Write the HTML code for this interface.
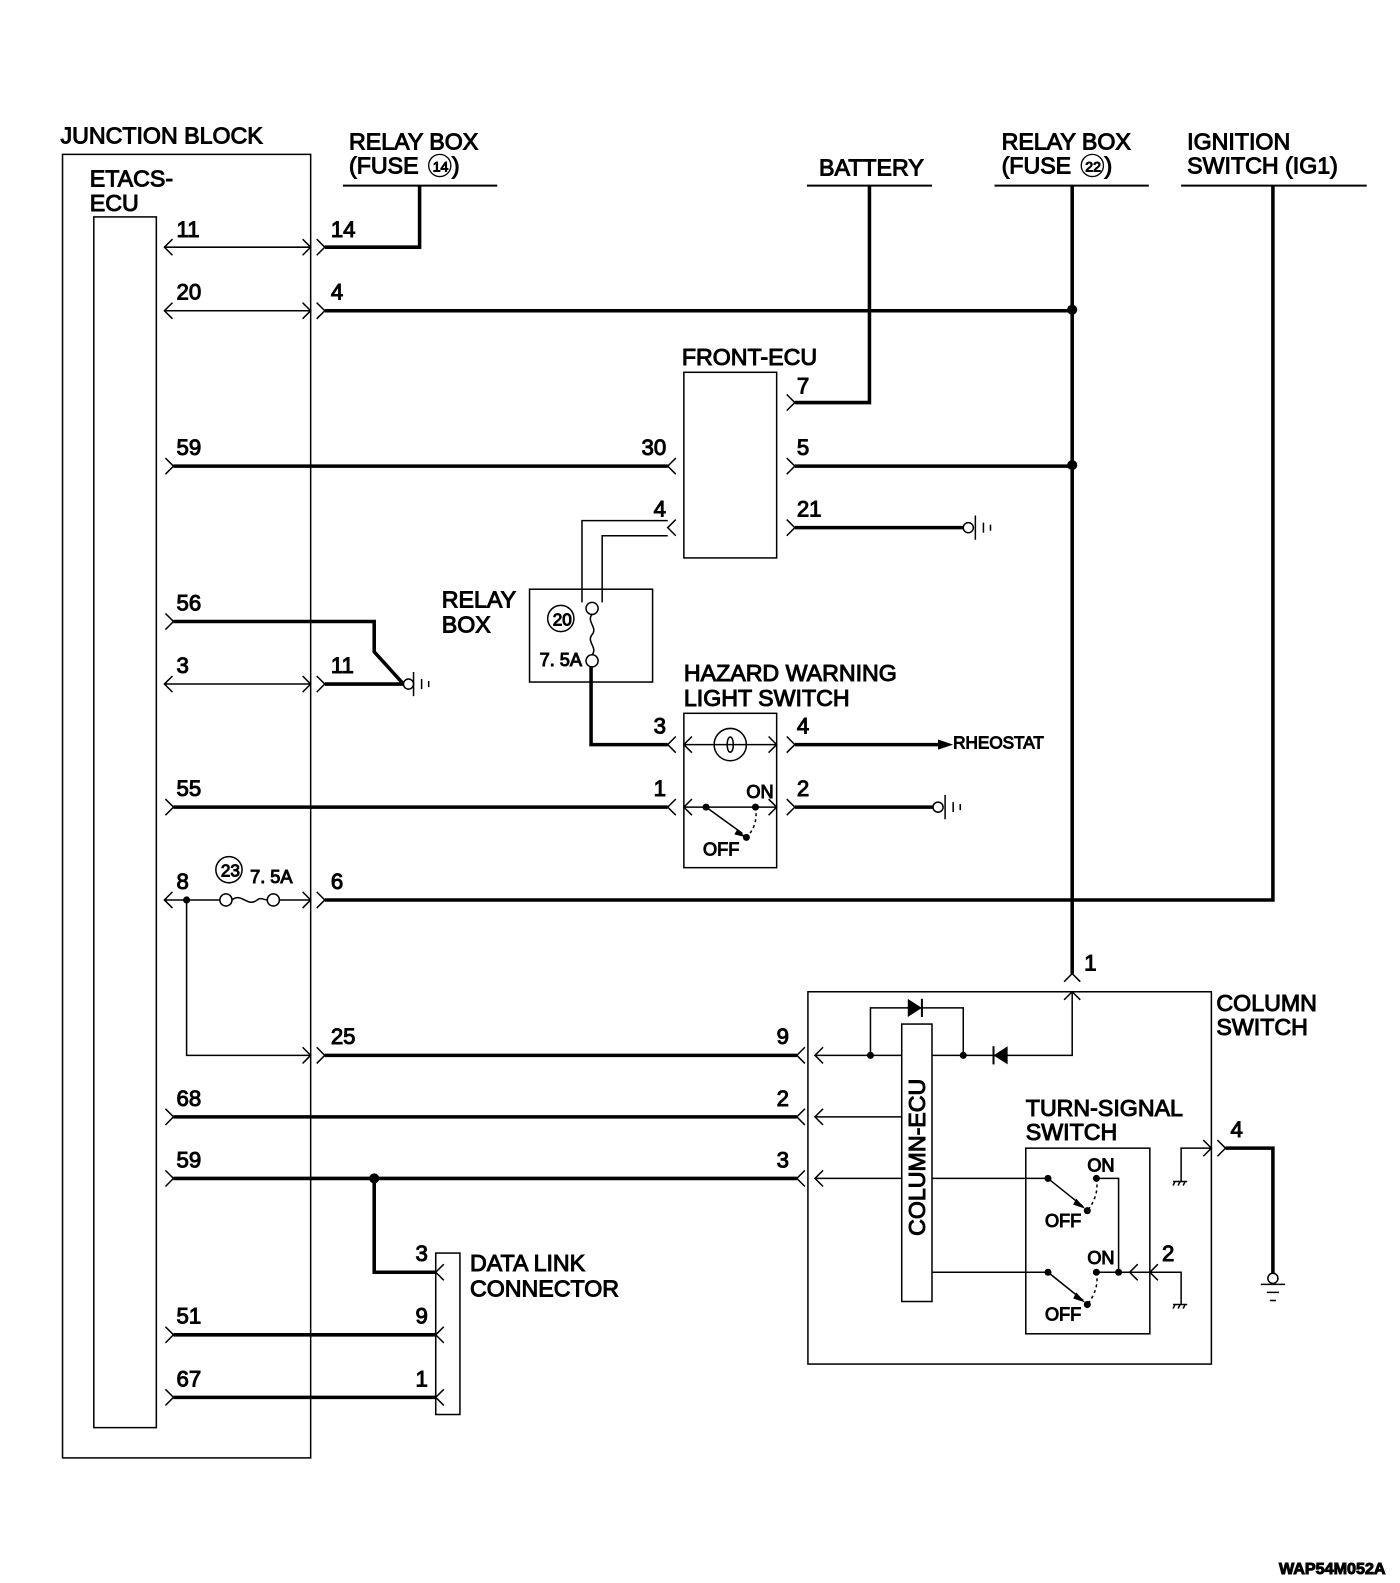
<!DOCTYPE html>
<html><head><meta charset="utf-8"><style>
html,body{margin:0;padding:0;background:#fff;}
svg{display:block}
text{font-family:"Liberation Sans",sans-serif;fill:#000}
.L{font-size:23px}
.n{font-size:22px;font-family:"Liberation Sans Narrow","Liberation Sans",sans-serif}
.s{font-size:19px}
</style></head><body>
<svg width="1400" height="1583" viewBox="0 0 1388 1569" preserveAspectRatio="none" xmlns="http://www.w3.org/2000/svg">
<g fill="none" stroke="#000">
<rect x="62" y="153" width="246" height="1292" stroke-width="1.5"/>
<rect x="93" y="215" width="62" height="1200" stroke-width="1.5"/>
<g stroke-width="1.5">
<path d="M163 245H308 M171 237L163 245L171 253 M300 237L308 245L300 253 M314 237L322 245L314 253"/>
<path d="M163 308H308 M171 300L163 308L171 316 M300 300L308 308L300 316 M314 300L322 308L314 316"/>
<path d="M163 678H308 M171 670L163 678L171 686 M300 670L308 678L300 686 M314 670L322 678L314 686"/>
<path d="M163 892H218 M171 884L163 892L171 900 M277 892H308 M300 884L308 892L300 900 M314 884L322 892L314 900"/>
<path d="M185 892V1046H308 M300 1038L308 1046L300 1054 M314 1038L322 1046L314 1054"/>
<path d="M164 454L172 462L164 470 M164 608L172 616L164 624 M164 792L172 800L164 808 M164 1099L172 1107L164 1115 M164 1160L172 1168L164 1176 M164 1315L172 1323L164 1331 M164 1377L172 1385L164 1393"/>
</g>
<g stroke-width="3.5">
<path d="M322 245H416V184"/>
<path d="M322 308H1063"/>
<path d="M172 462H662"/>
<path d="M172 616H371V646L400 678H322"/>
<path d="M172 800H662"/>
<path d="M322 892H1262V184"/>
<path d="M322 1046H790"/>
<path d="M172 1107H790"/>
<path d="M172 1168H790"/>
<path d="M371 1168V1261H432"/>
<path d="M172 1323H432"/>
<path d="M172 1385H432"/>
<path d="M862 184V399H788"/>
<path d="M1063 184V965"/>
<path d="M788 462H1063"/>
<path d="M788 523H955"/>
<path d="M586 661V738H662"/>
<path d="M788 738H930"/>
<path d="M788 800H925"/>
<path d="M1215 1138H1262V1262"/>
</g>
<g stroke-width="2">
<path d="M340 184H493 M800 184H924 M986 184H1139 M1171 184H1355"/>
</g>
<g stroke-width="1.5">
<rect x="678" y="369" width="92" height="184"/>
<path d="M780 391L788 399L780 407 M780 454L788 462L780 470 M780 515L788 523L780 531"/>
<path d="M670 454L662 462L670 470 M670 515L662 523L670 531"/>
<path d="M662 516H577V597 M662 531H597V597"/>
<rect x="525" y="584" width="122" height="92"/>
<circle cx="587" cy="603" r="6"/>
<circle cx="587" cy="655" r="6"/>
<path d="M587 609C581 616 593 622 587 629C581 636 593 642 587 649"/>
<circle cx="556" cy="613" r="13"/>
<rect x="678" y="707" width="92" height="153"/>
<path d="M670 730L662 738L670 746 M686 730L678 738L686 746 M762 730L770 738L762 746 M780 730L788 738L780 746"/>
<path d="M678 738H770"/>
<circle cx="724" cy="738" r="16"/>
<path d="M721 738C721 728 727 728 727 738C727 748 721 748 721 738"/>
<path d="M670 792L662 800L670 808 M686 792L678 800L686 808 M762 792L770 800L762 808 M780 792L788 800L780 808"/>
<path d="M678 800H770"/>
<path d="M700 800L736 826"/>
<path d="M749 800Q752 818 740 830" stroke-dasharray="3 3"/>
<circle cx="224" cy="892" r="6"/>
<circle cx="271" cy="892" r="6"/>
<path d="M230 892C240 884 245 900 255 892C258 889 262 892 265 892"/>
<circle cx="227" cy="862" r="13"/>
<path d="M967 511V535 M975 518V528 M982 520V526"/>
<path d="M937 788V812 M945 795V805 M952 797V803"/>
<path d="M410 666V690 M418 673V683 M425 675V681"/>
<rect x="801" y="983" width="400" height="369"/>
<path d="M1055 973L1063 965L1071 973 M1055 991L1063 983L1071 991"/>
<rect x="894" y="1015" width="30" height="275"/>
<path d="M798 1038L790 1046L798 1054 M816 1038L808 1046L816 1054 M798 1099L790 1107L798 1115 M816 1099L808 1107L816 1115 M798 1160L790 1168L798 1176 M816 1160L808 1168L816 1176"/>
<path d="M808 1046H894 M808 1107H894 M808 1168H894"/>
<path d="M863 1046V999H955V1046 M924 1046H1063V983"/>
<path d="M924 1168H1039 M924 1261H1039"/>
<rect x="1017" y="1138" width="123" height="184"/>
<path d="M1039 1168L1074 1196 M1039 1261L1074 1289"/>
<path d="M1087 1168Q1090 1185 1078 1200 M1087 1261Q1090 1278 1078 1293" stroke-dasharray="3 3"/>
<path d="M1087 1168H1109V1261 M1087 1261H1171V1293"/>
<path d="M1128 1253L1120 1261L1128 1269 M1148 1253L1140 1261L1148 1269"/>
<path d="M1171 1171V1138H1201 M1193 1130L1201 1138L1193 1146 M1207 1130L1215 1138L1207 1146"/>
<path d="M1163 1171H1177 M1165 1171L1163 1175 M1170 1171L1168 1175 M1175 1171L1173 1175 M1163 1293H1177 M1165 1293L1163 1297 M1170 1293L1168 1297 M1175 1293L1173 1297"/>
<circle cx="1262" cy="1267" r="5"/>
<path d="M1250 1273H1274 M1256 1281H1268 M1259 1289H1265"/>
<rect x="432" y="1242" width="24" height="160"/>
<path d="M440 1253L432 1261L440 1269 M440 1315L432 1323L440 1331 M440 1377L432 1385L440 1393"/>
</g>
<g fill="#000" stroke="none">
<circle cx="1063" cy="307" r="5"/><circle cx="1063" cy="461" r="5"/>
<circle cx="371" cy="1168" r="5"/><circle cx="185" cy="892" r="3.5"/>
<circle cx="700" cy="800" r="3.5"/><circle cx="740" cy="830" r="3.5"/><circle cx="749" cy="800" r="3.5"/>
<path d="M930 733L945 738L930 743Z"/>
<path d="M731 822L740 830L728 827Z"/>
<circle cx="863" cy="1046" r="3.5"/><circle cx="955" cy="1046" r="3.5"/>
<path d="M900 990L914 999L900 1008Z"/><rect x="913" y="990" width="2" height="18"/>
<path d="M999 1037L985 1046L999 1055Z"/><rect x="984" y="1037" width="2" height="18"/>
<circle cx="1039" cy="1168" r="3.5"/><circle cx="1078" cy="1200" r="3.5"/><circle cx="1087" cy="1168" r="3.5"/>
<circle cx="1039" cy="1261" r="3.5"/><circle cx="1078" cy="1293" r="3.5"/><circle cx="1087" cy="1261" r="3.5"/><circle cx="1109" cy="1261" r="3.5"/>
<path d="M1067 1188L1076 1198L1064 1194Z M1067 1281L1076 1291L1064 1287Z"/>
</g>
<g fill="#fff" stroke="#000" stroke-width="1.5">
<circle cx="405" cy="678" r="5"/><circle cx="960" cy="523" r="5"/><circle cx="930" cy="800" r="5"/>
</g>
<g class="L">
<text x="60" y="142">JUNCTION BLOCK</text>
<text x="89" y="185">ETACS-</text><text x="89" y="209">ECU</text>
<text x="346" y="148">RELAY BOX</text><text x="346" y="172">(FUSE</text>
<text x="812" y="174">BATTERY</text>
<text x="993" y="148">RELAY BOX</text><text x="993" y="172">(FUSE</text>
<text x="1177" y="148">IGNITION</text><text x="1177" y="172">SWITCH (IG1)</text>
<text x="676" y="362">FRONT-ECU</text>
<text x="438" y="602">RELAY</text><text x="438" y="627">BOX</text>
<text x="678" y="675">HAZARD WARNING</text><text x="678" y="700">LIGHT SWITCH</text>
<text x="1206" y="1002">COLUMN</text><text x="1206" y="1026">SWITCH</text>
<text x="1017" y="1106">TURN-SIGNAL</text><text x="1017" y="1130">SWITCH</text>
<text x="466" y="1260">DATA LINK</text><text x="466" y="1285">CONNECTOR</text>
<text transform="translate(917 1225) rotate(-90)">COLUMN-ECU</text>
</g>
<text x="945" y="742" style="font-size:17px">RHEOSTAT</text>
<g class="L">
<circle cx="436" cy="164" r="11" fill="none" stroke="#000" stroke-width="1.3"/><text x="429" y="170" style="font-size:14px">14</text><text x="448" y="172">)</text>
<circle cx="1083" cy="164" r="11" fill="none" stroke="#000" stroke-width="1.3"/><text x="1076" y="170" style="font-size:14px">22</text><text x="1095" y="172">)</text>
</g>
<text x="548" y="620" style="font-size:17px">20</text>
<text x="219" y="869" style="font-size:17px">23</text>
<g class="n" style="font-size:18px">
<text x="535" y="660">7. 5A</text><text x="248" y="875">7. 5A</text>
<text x="740" y="791">ON</text><text x="697" y="848">OFF</text>
<text x="1078" y="1161">ON</text><text x="1036" y="1216">OFF</text>
<text x="1078" y="1253">ON</text><text x="1036" y="1309">OFF</text>
</g>
<g class="n">
<text x="175" y="235">11</text><text x="175" y="297">20</text><text x="175" y="451">59</text><text x="175" y="605">56</text>
<text x="175" y="667">3</text><text x="175" y="789">55</text><text x="175" y="881">8</text><text x="175" y="1096">68</text>
<text x="175" y="1157">59</text><text x="175" y="1312">51</text><text x="175" y="1374">67</text>
<text x="328" y="235">14</text><text x="328" y="297">4</text><text x="328" y="667">11</text><text x="328" y="881">6</text><text x="328" y="1035">25</text>
<text x="636" y="451">30</text><text x="790" y="390">7</text><text x="790" y="451">5</text><text x="790" y="512">21</text><text x="648" y="512">4</text>
<text x="648" y="727">3</text><text x="790" y="727">4</text><text x="648" y="789">1</text><text x="790" y="789">2</text>
<text x="770" y="1035">9</text><text x="770" y="1096">2</text><text x="770" y="1157">3</text><text x="1075" y="962">1</text>
<text x="1220" y="1127">4</text><text x="1152" y="1250">2</text>
<text x="412" y="1250">3</text><text x="412" y="1312">9</text><text x="412" y="1374">1</text>
</g>
<text x="1268" y="1560" style="font-size:16px;font-weight:bold;font-family:'Liberation Sans Narrow','Liberation Sans',sans-serif">WAP54M052A</text>
</svg>
</body></html>
